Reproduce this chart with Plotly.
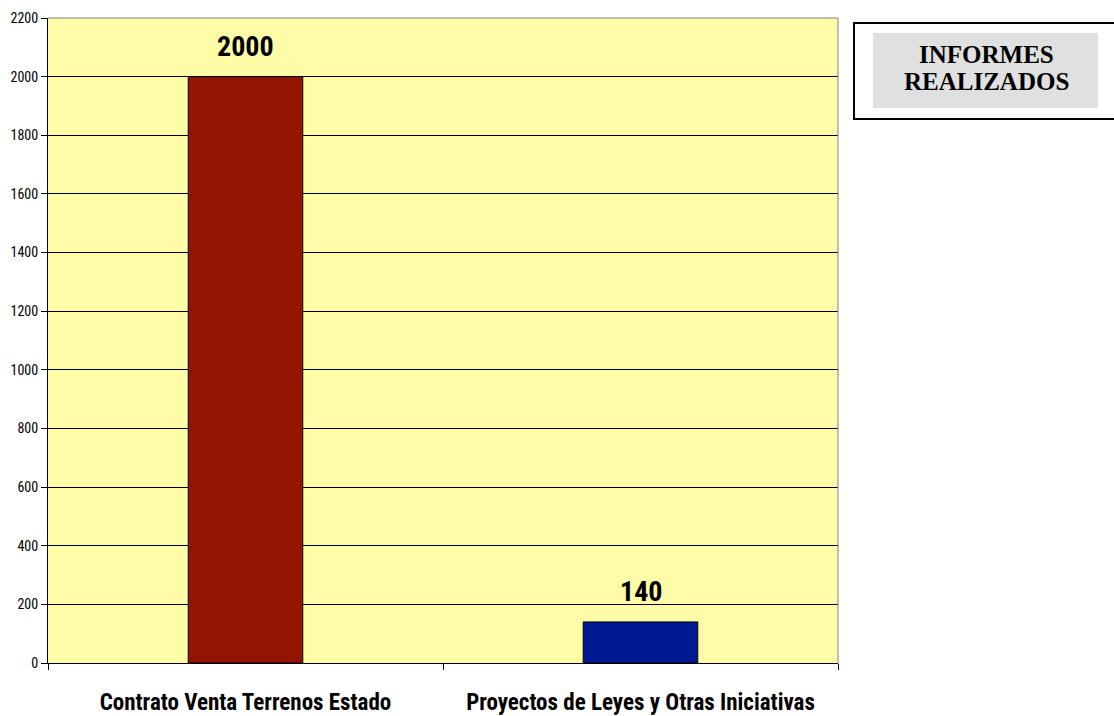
import plotly.graph_objects as go

categories = ["Contrato Venta Terrenos Estado", "Proyectos de Leyes y Otras Iniciativas"]
values = [2000, 140]
bar_colors = ["#931500", "#001A94"]
title_lines = ["INFORMES", "REALIZADOS"]

NARROW = "Roboto Condensed, Liberation Sans Narrow, Arial Narrow, sans-serif"
SERIF = "Liberation Serif, Times New Roman, serif"

# body margin is removed by the post script, so the figure fills the window
OFF = 0
W, H = 1114, 716
PL, PR, PT, PB = 48, 838, 18, 663  # plot area in page pixels
PW, PH = PR - PL, PB - PT


def px(x):
    return (x - PL) / PW


def py(y):
    return (PB - y) / PH


fig = go.Figure()
fig.add_trace(go.Bar(
    x=categories, y=values,
    marker=dict(color=bar_colors, line=dict(color="#000000", width=1)),
    width=0.29, hoverinfo="skip",
))

for c, v in zip(categories, values):
    fig.add_annotation(x=c, y=v, text="<b>%d</b>" % v, showarrow=False,
                       yanchor="bottom", yshift=12,
                       font=dict(family=NARROW, size=28, color="#000000"))

fig.update_layout(
    width=W, height=H,
    margin=dict(l=PL - OFF, r=W - (PR - OFF), t=PT - OFF, b=H - (PB - OFF), pad=0, autoexpand=False),
    paper_bgcolor="#FFFFFF", plot_bgcolor="#FFFCA8",
    showlegend=False,
    font=dict(family=NARROW, color="#000000"),
)
fig.update_yaxes(range=[0, 2200], dtick=200, showgrid=True, gridcolor="#000000", gridwidth=1,
                 showline=True, linecolor="#000000", linewidth=1, automargin=False,
                 ticks="outside", ticklen=6, tickcolor="#000000",
                 tickfont=dict(family=NARROW, size=14, color="#000000"), zeroline=False)
fig.update_xaxes(showline=True, linecolor="#000000", linewidth=1, automargin=False,
                 ticks="outside", ticklen=6, tickcolor="#000000", tickson="boundaries",
                 tickfont=dict(family=NARROW, size=23, color="#000000"),
                 tickvals=categories, ticktext=["<b>%s</b>" % c for c in categories],
                 ticklabelstandoff=18)

# top and right plot border in gray
fig.add_shape(type="line", xref="paper", yref="paper", x0=0, x1=1, y0=1, y1=1,
              line=dict(color="#808080", width=1))
fig.add_shape(type="line", xref="paper", yref="paper", x0=1, x1=1, y0=0, y1=1,
              line=dict(color="#808080", width=1))

# title box on the right
fig.add_shape(type="rect", xref="paper", yref="paper",
              x0=px(854), x1=px(1125), y0=py(119), y1=py(23),
              line=dict(color="#000000", width=2), fillcolor="#FFFFFF", layer="above")
fig.add_shape(type="rect", xref="paper", yref="paper",
              x0=px(873), x1=px(1098), y0=py(108), y1=py(33),
              line=dict(width=0), fillcolor="#E0E0E0", layer="above")
for i, line in enumerate(title_lines):
    fig.add_annotation(xref="paper", yref="paper", x=px(986), y=py(54 + 27 * i),
                       xanchor="center", yanchor="middle",
                       text="<b>%s</b>" % line, showarrow=False,
                       font=dict(family=SERIF, size=25, color="#000000"))

fig.write_html("out.html", config={"displayModeBar": False},
               post_script="document.body.style.margin='0';document.body.style.overflow='hidden';")
